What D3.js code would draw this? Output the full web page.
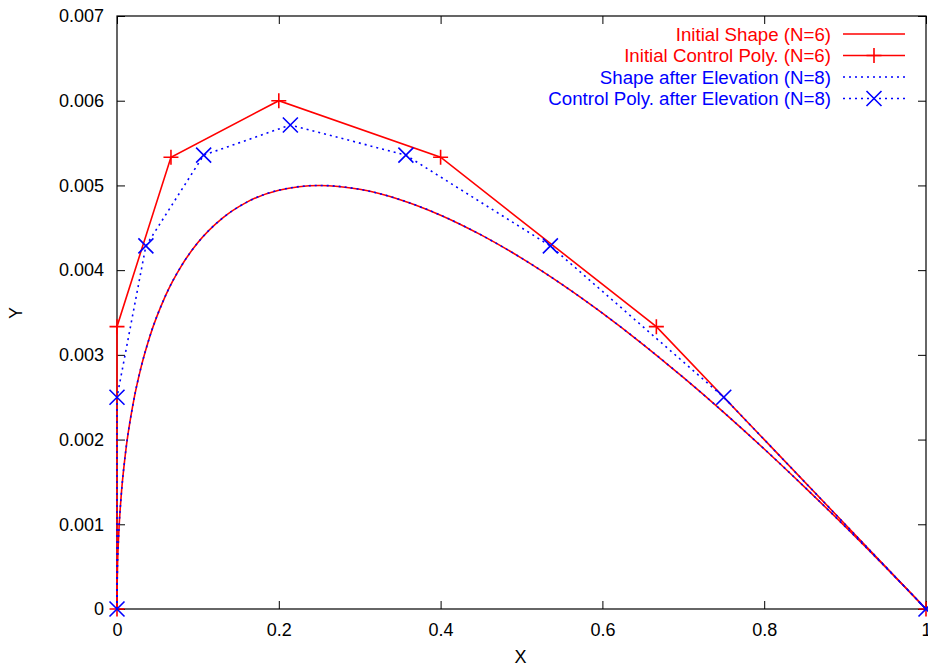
<!DOCTYPE html>
<html><head><meta charset="utf-8">
<script src="https://cdn.jsdelivr.net/npm/d3@7"></script>
<style>
html,body{margin:0;padding:0;background:#fff;overflow:hidden;}
text{font-family:"Liberation Sans",Arial,Helvetica,sans-serif;}
</style></head>
<body>
<svg id="chart" width="928" height="666"></svg>
<script>
// Initial control polygon (N=6)
const ctrl6X = [0, 0, 0.0667, 0.2, 0.4, 0.6667, 1];
const ctrl6Y = [0, 0.003333, 0.005333, 0.006, 0.005333, 0.003333, 0];
// Control polygon after elevation (N=8)
const ctrl8X = [0, 0, 0.0357, 0.1071, 0.2143, 0.3571, 0.5357, 0.75, 1];
const ctrl8Y = [0, 0.0025, 0.004286, 0.005357, 0.005714, 0.005357, 0.004286, 0.0025, 0];
// Shape (both curves coincide)
const shapeX = [0, 0.0001, 0.0005, 0.002, 0.005, 0.01, 0.02, 0.03, 0.04, 0.06, 0.08, 0.1, 0.13, 0.16, 0.2, 0.25, 0.3, 0.35, 0.4, 0.45, 0.5, 0.55, 0.6, 0.65, 0.7, 0.75, 0.8, 0.85, 0.9, 0.95, 1];
const shapeY = [0, 0.000198, 0.000437, 0.000854, 0.001314, 0.0018, 0.002428, 0.002864, 0.0032, 0.003699, 0.004057, 0.004325, 0.004611, 0.0048, 0.004944, 0.005, 0.004954, 0.004832, 0.004649, 0.004416, 0.004142, 0.003832, 0.003492, 0.003125, 0.002733, 0.002321, 0.001889, 0.001439, 0.000974, 0.000494, 0];
// Ticks
const xTicks = [0, 0.2, 0.4, 0.6, 0.8, 1];
const xTickLabels = ["0", "0.2", "0.4", "0.6", "0.8", "1"];
const yTicks = [0, 0.001, 0.002, 0.003, 0.004, 0.005, 0.006, 0.007];
const yTickLabels = ["0", "0.001", "0.002", "0.003", "0.004", "0.005", "0.006", "0.007"];
const legendLabels = ["Initial Shape (N=6)", "Initial Control Poly. (N=6)", "Shape after Elevation (N=8)", "Control Poly. after Elevation (N=8)"];

const RED = "#ff0000", BLUE = "#0000ff";
const L = 117, R = 926, T = 16, B = 609;
const svg = d3.select("#chart");
const x = d3.scaleLinear().domain([0, 1]).range([L, R]);
const y = d3.scaleLinear().domain([0, 0.007]).range([B, T]);
const FS = 18, LFS = 18.7;

// axes (ticks inward, mirrored)
const tickLen = 8;
const gB = svg.append("g").attr("transform", `translate(0,${B})`)
  .call(d3.axisBottom(x).tickValues(xTicks).tickSize(-tickLen).tickPadding(14)
    .tickFormat((d, i) => xTickLabels[i]));
const gT = svg.append("g").attr("transform", `translate(0,${T})`)
  .call(d3.axisTop(x).tickValues(xTicks).tickSize(-tickLen).tickFormat(""));
const gL = svg.append("g").attr("transform", `translate(${L},0)`)
  .call(d3.axisLeft(y).tickValues(yTicks).tickSize(-tickLen).tickPadding(13)
    .tickFormat((d, i) => yTickLabels[i]));
const gR = svg.append("g").attr("transform", `translate(${R},0)`)
  .call(d3.axisRight(y).tickValues(yTicks).tickSize(-tickLen).tickFormat(""));
[gB, gT, gL, gR].forEach(g => {
  g.select(".domain").remove();
  g.selectAll(".tick line").attr("stroke", "#000").attr("stroke-width", 1);
  g.selectAll("text").attr("font-size", FS).attr("fill", "#000")
    .attr("font-family", "Liberation Sans, Arial, sans-serif");
});
svg.append("rect").attr("x", L).attr("y", T).attr("width", R - L).attr("height", B - T)
  .attr("fill", "none").attr("stroke", "#000").attr("stroke-width", 1.2);

// axis titles
svg.append("text").attr("x", (L + R) / 2 - 1).attr("y", 658).attr("text-anchor", "middle")
  .attr("font-size", FS).attr("dominant-baseline", "middle").text("X");
svg.append("text").attr("transform", `translate(17,313) rotate(-90)`).attr("text-anchor", "middle")
  .attr("dominant-baseline", "middle").attr("font-size", FS).text("Y");

const line = d3.line().x(d => x(d[0])).y(d => y(d[1]));
const lineSmooth = d3.line().x(d => x(d[0])).y(d => y(d[1])).curve(d3.curveMonotoneX);
const shape = shapeX.map((v, i) => [v, shapeY[i]]);
const c6 = ctrl6X.map((v, i) => [v, ctrl6Y[i]]);
const c8 = ctrl8X.map((v, i) => [v, ctrl8Y[i]]);

function plus(g, cx, cy, s, col) {
  g.append("path").attr("d", `M${cx - s},${cy}H${cx + s}M${cx},${cy - s}V${cy + s}`)
    .attr("stroke", col).attr("stroke-width", 1.6).attr("fill", "none");
}
function cross(g, cx, cy, s, col) {
  g.append("path").attr("d", `M${cx - s},${cy - s}L${cx + s},${cy + s}M${cx - s},${cy + s}L${cx + s},${cy - s}`)
    .attr("stroke", col).attr("stroke-width", 1.6).attr("fill", "none");
}
const MS = 7.5;

// Initial shape
svg.append("path").datum(shape).attr("d", lineSmooth).attr("fill", "none")
  .attr("stroke", RED).attr("stroke-width", 1.6);
// Initial control polygon
svg.append("path").datum(c6).attr("d", line).attr("fill", "none")
  .attr("stroke", RED).attr("stroke-width", 1.6);
const m6 = svg.append("g");
c6.forEach(p => plus(m6, x(p[0]), y(p[1]), MS, RED));
// Shape after elevation
svg.append("path").datum(shape).attr("d", lineSmooth).attr("fill", "none")
  .attr("stroke", BLUE).attr("stroke-width", 1.6).attr("stroke-dasharray", "2,4");
// Control polygon after elevation
svg.append("path").datum(c8).attr("d", line).attr("fill", "none")
  .attr("stroke", BLUE).attr("stroke-width", 1.6).attr("stroke-dasharray", "2,4");
const m8 = svg.append("g");
c8.forEach(p => cross(m8, x(p[0]), y(p[1]), MS, BLUE));

// Legend
const legY = [34, 55.5, 77, 98.5];
const legCols = [RED, RED, BLUE, BLUE];
const textX = 831, lx0 = 843, lx1 = 905;
legendLabels.forEach((lab, i) => {
  const yy = legY[i];
  svg.append("text").attr("x", textX).attr("y", yy).attr("text-anchor", "end")
    .attr("dominant-baseline", "central").attr("font-size", LFS).attr("fill", legCols[i]).text(lab);
  const ln = svg.append("line").attr("x1", lx0).attr("x2", lx1).attr("y1", yy).attr("y2", yy)
    .attr("stroke", legCols[i]).attr("stroke-width", 1.6);
  if (i >= 2) ln.attr("stroke-dasharray", "2,4");
  if (i === 1) plus(svg, (lx0 + lx1) / 2, yy, MS, RED);
  if (i === 3) cross(svg, (lx0 + lx1) / 2, yy, MS, BLUE);
});
</script>
</body></html>
